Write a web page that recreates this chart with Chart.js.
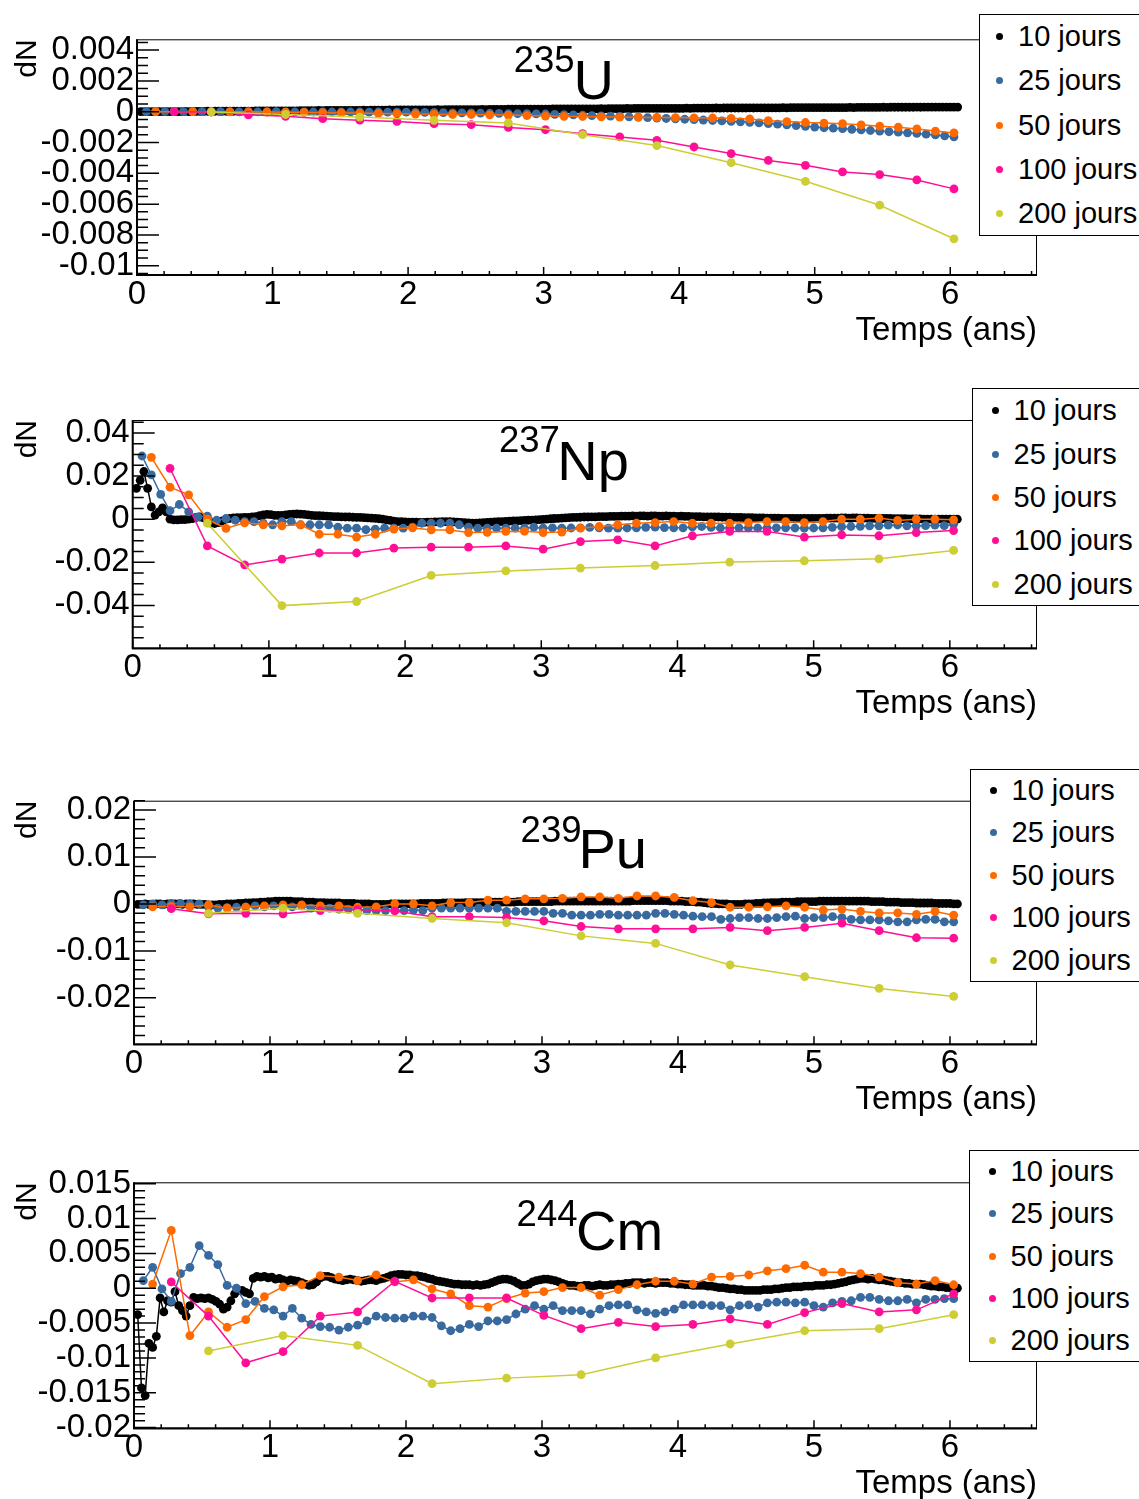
<!DOCTYPE html>
<html lang="fr">
<head>
<meta charset="utf-8">
<title>dN en fonction du temps</title>
<script src="https://cdn.jsdelivr.net/npm/chart.js@4.4.1/dist/chart.umd.min.js"></script>
<style>
  html, body { margin: 0; padding: 0; background: #fff; }
  body { position: relative; width: 1139px; height: 1499px; overflow: hidden;
         font-family: "Liberation Sans", Arial, Helvetica, sans-serif; color: #000; }
  .pad { position: absolute; left: 0; width: 1139px; height: 380px; overflow: hidden; }
  .pad canvas { position: absolute; left: 0; top: 0; }
  .iso { position: absolute; line-height: 1; white-space: nowrap; }
  .mass { font-size: 36.5px; }
  .sym { font-size: 56px; }
  .legbox { position: absolute; width: 230px; background: #fff; border: 1px solid #000; box-sizing: border-box; }
  .legrow { position: absolute; height: 32px; line-height: 32px; font-size: 29px; white-space: nowrap; }
  .legdot { position: absolute; width: 7px; height: 7px; border-radius: 50%; }
</style>
</head>
<body>
<div class="pad" id="pad0" style="top:0px"><canvas id="c0" width="1139" height="380"></canvas></div>
<div class="pad" id="pad1" style="top:375px"><canvas id="c1" width="1139" height="380"></canvas></div>
<div class="pad" id="pad2" style="top:750px"><canvas id="c2" width="1139" height="380"></canvas></div>
<div class="pad" id="pad3" style="top:1125px"><canvas id="c3" width="1139" height="380"></canvas></div>
<script>
// one series per sampling interval (days), t = k * interval / 365
const seriesLabels = ["10 jours", "25 jours", "50 jours", "100 jours", "200 jours"];
const stepDays = [10, 25, 50, 100, 200];
const seriesColors = ["#000000", "#386aa0", "#ff6a00", "#ff0f96", "#cdcd34"];
const xTickLabels = ["0", "1", "2", "3", "4", "5", "6"];

// ---- 235U ----
const u235_10j = [
  0, 0, 0, 0.00001, 0, 0, 0.00001, 0, 0.00001, 0.00001,
  0.00001, 0.00001, 0.00002, 0.00001, 0.00002, 0.00002, 0.00002, 0.00002, 0.00003, 0.00002,
  0.00003, 0.00003, 0.00003, 0.00003, 0.00004, 0.00003, 0.00004, 0.00004, 0.00004, 0.00004,
  0.00004, 0.00005, 0.00005, 0.00005, 0.00005, 0.00005, 0.00006, 0.00005, 0.00006, 0.00006,
  0.00006, 0.00006, 0.00006, 0.00007, 0.00007, 0.00007, 0.00007, 0.00007, 0.00008, 0.00007,
  0.00008, 0.00008, 0.00008, 0.00008, 0.00009, 0.00008, 0.00009, 0.00009, 0.00009, 0.00009,
  0.00010, 0.00009, 0.00010, 0.00010, 0.00010, 0.00010, 0.00010, 0.00011, 0.00010, 0.00011,
  0.00011, 0.00011, 0.00011, 0.00012, 0.00011, 0.00012, 0.00012, 0.00012, 0.00012, 0.00012,
  0.00013, 0.00012, 0.00013, 0.00013, 0.00013, 0.00013, 0.00014, 0.00013, 0.00014, 0.00014,
  0.00014, 0.00014, 0.00015, 0.00014, 0.00015, 0.00015, 0.00015, 0.00015, 0.00015, 0.00016,
  0.00016, 0.00016, 0.00016, 0.00016, 0.00017, 0.00016, 0.00017, 0.00017, 0.00017, 0.00017,
  0.00017, 0.00018, 0.00018, 0.00018, 0.00018, 0.00018, 0.00018, 0.00019, 0.00018, 0.00019,
  0.00019, 0.00019, 0.00019, 0.00019, 0.00020, 0.00019, 0.00020, 0.00020, 0.00020, 0.00020,
  0.00020, 0.00021, 0.00020, 0.00021, 0.00021, 0.00021, 0.00021, 0.00021, 0.00021, 0.00022,
  0.00021, 0.00022, 0.00022, 0.00022, 0.00022, 0.00022, 0.00022, 0.00023, 0.00022, 0.00023,
  0.00023, 0.00023, 0.00023, 0.00023, 0.00023, 0.00024, 0.00023, 0.00024, 0.00024, 0.00024,
  0.00024, 0.00024, 0.00024, 0.00024, 0.00025, 0.00024, 0.00025, 0.00025, 0.00025, 0.00025,
  0.00025, 0.00025, 0.00025, 0.00026, 0.00025, 0.00026, 0.00026, 0.00026, 0.00026, 0.00026,
  0.00026, 0.00026, 0.00027, 0.00026, 0.00027, 0.00027, 0.00027, 0.00027, 0.00027, 0.00027,
  0.00027, 0.00028, 0.00027, 0.00028, 0.00028, 0.00028, 0.00028, 0.00028, 0.00028, 0.00028,
  0.00029, 0.00028, 0.00029, 0.00029, 0.00029, 0.00029, 0.00029, 0.00029, 0.00029, 0.00030,
  0.00029, 0.00030, 0.00030, 0.00030, 0.00030, 0.00030, 0.00030, 0.00030, 0.00030, 0.00030,
  0.00030
];
const u235_25j = [
  0, 0.00001, 0, 0, 0.00001, 0, 0, -0.00001, 0, 0,
  -0.00001, 0, -0.00001, -0.00001, 0, -0.00001, -0.00001, -0.00001, -0.00002, -0.00001,
  -0.00002, -0.00002, -0.00002, -0.00002, -0.00003, -0.00002, -0.00003, -0.00003, -0.00003, -0.00004,
  -0.00005, -0.00005, -0.00006, -0.00007, -0.00008, -0.00008, -0.00009, -0.00010, -0.00011, -0.00012,
  -0.00012, -0.00013, -0.00014, -0.00015, -0.00017, -0.00019, -0.00021, -0.00023, -0.00025, -0.00027,
  -0.00029, -0.00031, -0.00033, -0.00035, -0.00038, -0.00041, -0.00044, -0.00047, -0.00049, -0.00052,
  -0.00054, -0.00057, -0.00060, -0.00063, -0.00066, -0.00069, -0.00073, -0.00077, -0.00081, -0.00085,
  -0.00090, -0.00095, -0.00100, -0.00104, -0.00107, -0.00110, -0.00114, -0.00118, -0.00122, -0.00126,
  -0.00130, -0.00133, -0.00137, -0.00141, -0.00146, -0.00151, -0.00157, -0.00163
];
const u235_50j = [
  0, 0, 0, 0, -0.00001, -0.00001, -0.00002, -0.00003, -0.00005, -0.00006,
  -0.00008, -0.00009, -0.00011, -0.00013, -0.00015, -0.00016, -0.00018, -0.00018, -0.00020, -0.00022,
  -0.00025, -0.00028, -0.00030, -0.00031, -0.00033, -0.00035, -0.00036, -0.00037, -0.00038, -0.00040,
  -0.00041, -0.00043, -0.00047, -0.00058, -0.00064, -0.00070, -0.00074, -0.00078, -0.00085, -0.00094,
  -0.00101, -0.00112, -0.00126, -0.00138
];
const u235_100j = [
  0, -0.00002, -0.00020, -0.00030, -0.00045, -0.00055, -0.00063, -0.00078, -0.00084, -0.00102,
  -0.00117, -0.00143, -0.00164, -0.00186, -0.00229, -0.00272, -0.00316, -0.00348, -0.00391, -0.00408,
  -0.00443, -0.00501
];
const u235_200j = [-0.00002, -0.00018, -0.00035, -0.00056, -0.00073, -0.00149, -0.00220, -0.00331, -0.00452, -0.00607, -0.00825];

// ---- 237Np ----
const np237_10j = [
  0.0143, 0.0180, 0.0221, 0.0143, 0.0057, 0.0019, 0.0034, 0.0052, 0.0034, 0.0000,
  -0.0003, -0.0003, -0.0002, -0.0002, 0.0000, 0.0003, 0.0008, 0.0010, 0.0006, -0.0010,
  -0.0018, -0.0020, -0.0016, -0.0008, 0.0000, 0.0004, 0.0006, 0.0007, 0.0007, 0.0008,
  0.0008, 0.0010, 0.0012, 0.0016, 0.0020, 0.0022, 0.0021, 0.0018, 0.0017, 0.0018,
  0.0020, 0.0022, 0.0023, 0.0024, 0.0023, 0.0022, 0.0020, 0.0018, 0.0016, 0.0016,
  0.0015, 0.0014, 0.0013, 0.0012, 0.0012, 0.0011, 0.0010, 0.0010, 0.0009, 0.0008,
  0.0008, 0.0007, 0.0006, 0.0005, 0.0004, 0.0002, 0.0000, -0.0003, -0.0006, -0.0009,
  -0.0011, -0.0012, -0.0013, -0.0014, -0.0014, -0.0014, -0.0015, -0.0015, -0.0014, -0.0014,
  -0.0013, -0.0013, -0.0012, -0.0012, -0.0012, -0.0013, -0.0014, -0.0015, -0.0016, -0.0017,
  -0.0018, -0.0018, -0.0017, -0.0016, -0.0015, -0.0014, -0.0013, -0.0012, -0.0011, -0.0010,
  -0.0009, -0.0008, -0.0008, -0.0007, -0.0006, -0.0005, -0.0004, -0.0003, -0.0002, -0.0001,
  0.0000, 0.0002, 0.0003, 0.0004, 0.0005, 0.0006, 0.0007, 0.0008, 0.0008, 0.0009,
  0.0010, 0.0010, 0.0011, 0.0011, 0.0012, 0.0012, 0.0012, 0.0013, 0.0013, 0.0013,
  0.0014, 0.0014, 0.0014, 0.0015, 0.0014, 0.0015, 0.0015, 0.0014, 0.0015, 0.0015,
  0.0014, 0.0014, 0.0015, 0.0014, 0.0014, 0.0013, 0.0014, 0.0013, 0.0013, 0.0012,
  0.0012, 0.0012, 0.0011, 0.0011, 0.0010, 0.0010, 0.0010, 0.0009, 0.0009, 0.0009,
  0.0008, 0.0008, 0.0008, 0.0007, 0.0007, 0.0007, 0.0006, 0.0006, 0.0006, 0.0005,
  0.0005, 0.0005, 0.0005, 0.0004, 0.0004, 0.0004, 0.0004, 0.0004, 0.0003, 0.0004,
  0.0004, 0.0003, 0.0004, 0.0004, 0.0004, 0.0005, 0.0005, 0.0005, 0.0005, 0.0006,
  0.0006, 0.0005, 0.0006, 0.0006, 0.0005, 0.0005, 0.0005, 0.0004, 0.0004, 0.0004,
  0.0003, 0.0003, 0.0003, 0.0002, 0.0002, 0.0002, 0.0002, 0.0001, 0.0001, 0.0001,
  0.0001, 0.0000, 0.0000, 0.0000, 0.0000, 0.0000, 0.0000, 0.0000, 0.0000, 0.0000,
  0.0000
];
const np237_25j = [
  0.0293, 0.0205, 0.0115, 0.0039, 0.0068, 0.0034, 0.0011, 0.0014, -0.0005, 0.0003,
  -0.0005, -0.0011, -0.0011, -0.0019, -0.0026, -0.0011, -0.0011, -0.0026, -0.0026, -0.0026,
  -0.0026, -0.0037, -0.0042, -0.0042, -0.0049, -0.0046, -0.0042, -0.0042, -0.0042, -0.0037,
  -0.0019, -0.0019, -0.0019, -0.0019, -0.0026, -0.0037, -0.0042, -0.0042, -0.0042, -0.0042,
  -0.0042, -0.0042, -0.0037, -0.0042, -0.0040, -0.0042, -0.0041, -0.0040, -0.0038, -0.0040,
  -0.0042, -0.0042, -0.0041, -0.0040, -0.0038, -0.0037, -0.0039, -0.0040, -0.0040, -0.0036,
  -0.0034, -0.0038, -0.0041, -0.0041, -0.0040, -0.0040, -0.0041, -0.0041, -0.0040, -0.0040,
  -0.0041, -0.0042, -0.0041, -0.0040, -0.0038, -0.0035, -0.0034, -0.0033, -0.0031, -0.0031,
  -0.0028, -0.0027, -0.0031, -0.0031, -0.0030, -0.0028, -0.0030, -0.0024
];
const np237_50j = [
  0.0287, 0.0148, 0.0113, 0.0000, -0.0043, -0.0017, -0.0026, -0.0031, -0.0026, -0.0070,
  -0.0070, -0.0083, -0.0070, -0.0046, -0.0040, -0.0050, -0.0050, -0.0062, -0.0061, -0.0057,
  -0.0056, -0.0062, -0.0060, -0.0042, -0.0034, -0.0026, -0.0019, -0.0016, -0.0011, -0.0019,
  -0.0019, -0.0019, -0.0016, -0.0011, -0.0011, -0.0016, -0.0011, 0.0000, 0.0000, 0.0005,
  -0.0006, 0.0000, 0.0000, -0.0003
];
const np237_100j = [
  0.0236, -0.0124, -0.0212, -0.0185, -0.0157, -0.0157, -0.0134, -0.0130, -0.0130, -0.0124,
  -0.0139, -0.0104, -0.0096, -0.0124, -0.0077, -0.0057, -0.0057, -0.0083, -0.0073, -0.0077,
  -0.0062, -0.0053
];
const np237_200j = [-0.0019, -0.0401, -0.0382, -0.0261, -0.0240, -0.0227, -0.0215, -0.0199, -0.0193, -0.0184, -0.0145];

// ---- 239Pu ----
const pu239_10j = [
  -0.0001, -0.0001, 0.0000, -0.0001, -0.0001, 0.0000, 0.0000, -0.0001, 0.0000, 0.0000,
  0.0000, 0.0000, -0.0001, 0.0000, 0.0000, 0.0000, -0.0001, -0.0001, -0.0001, -0.0002,
  -0.0002, -0.0002, -0.0001, -0.0001, 0.0000, 0.0000, 0.0000, 0.0001, 0.0001, 0.0002,
  0.0002, 0.0003, 0.0003, 0.0004, 0.0004, 0.0005, 0.0005, 0.0006, 0.0006, 0.0006,
  0.0006, 0.0006, 0.0005, 0.0005, 0.0005, 0.0004, 0.0004, 0.0004, 0.0003, 0.0003,
  0.0003, 0.0002, 0.0002, 0.0002, 0.0002, 0.0001, 0.0001, 0.0001, 0.0001, 0.0000,
  0.0000, 0.0000, 0.0000, -0.0001, -0.0001, -0.0001, -0.0001, -0.0001, 0.0000, 0.0000,
  0.0000, 0.0000, 0.0000, 0.0000, 0.0000, 0.0000, 0.0001, 0.0001, 0.0001, 0.0001,
  0.0001, 0.0001, 0.0002, 0.0002, 0.0002, 0.0002, 0.0002, 0.0002, 0.0003, 0.0003,
  0.0003, 0.0003, 0.0003, 0.0003, 0.0003, 0.0004, 0.0004, 0.0004, 0.0004, 0.0004,
  0.0004, 0.0004, 0.0005, 0.0005, 0.0005, 0.0005, 0.0005, 0.0005, 0.0005, 0.0005,
  0.0005, 0.0005, 0.0006, 0.0006, 0.0006, 0.0006, 0.0006, 0.0006, 0.0006, 0.0006,
  0.0006, 0.0006, 0.0006, 0.0006, 0.0006, 0.0006, 0.0006, 0.0006, 0.0006, 0.0006,
  0.0006, 0.0006, 0.0006, 0.0007, 0.0007, 0.0007, 0.0007, 0.0007, 0.0007, 0.0007,
  0.0007, 0.0007, 0.0007, 0.0006, 0.0006, 0.0006, 0.0006, 0.0005, 0.0005, 0.0005,
  0.0004, 0.0004, 0.0003, 0.0002, 0.0001, 0.0001, 0.0000, 0.0000, 0.0000, -0.0001,
  -0.0001, -0.0001, -0.0001, 0.0000, 0.0000, 0.0000, 0.0001, 0.0001, 0.0002, 0.0002,
  0.0003, 0.0003, 0.0003, 0.0004, 0.0004, 0.0004, 0.0004, 0.0005, 0.0005, 0.0005,
  0.0005, 0.0005, 0.0005, 0.0006, 0.0006, 0.0006, 0.0006, 0.0006, 0.0006, 0.0006,
  0.0006, 0.0006, 0.0006, 0.0006, 0.0006, 0.0006, 0.0006, 0.0005, 0.0005, 0.0005,
  0.0005, 0.0004, 0.0004, 0.0004, 0.0004, 0.0003, 0.0003, 0.0003, 0.0003, 0.0002,
  0.0002, 0.0002, 0.0002, 0.0002, 0.0001, 0.0001, 0.0001, 0.0001, 0.0001, 0.0000,
  0.0000
];
const pu239_25j = [
  -0.0002, 0.0000, -0.0002, 0.0001, 0.0001, 0.0000, 0.0000, -0.0006, -0.0009, -0.0008,
  -0.0007, -0.0006, -0.0004, -0.0006, -0.0004, -0.0006, -0.0006, -0.0004, -0.0009, -0.0009,
  -0.0009, -0.0011, -0.0011, -0.0013, -0.0014, -0.0014, -0.0014, -0.0013, -0.0014, -0.0013,
  -0.0014, -0.0009, -0.0009, -0.0009, -0.0009, -0.0009, -0.0009, -0.0009, -0.0009, -0.0016,
  -0.0016, -0.0016, -0.0016, -0.0016, -0.0020, -0.0020, -0.0024, -0.0024, -0.0024, -0.0022,
  -0.0022, -0.0024, -0.0024, -0.0024, -0.0024, -0.0020, -0.0020, -0.0022, -0.0024, -0.0026,
  -0.0027, -0.0027, -0.0033, -0.0031, -0.0029, -0.0029, -0.0031, -0.0031, -0.0029, -0.0027,
  -0.0026, -0.0031, -0.0029, -0.0029, -0.0027, -0.0029, -0.0033, -0.0034, -0.0034, -0.0034,
  -0.0036, -0.0038, -0.0038, -0.0034, -0.0033, -0.0033, -0.0038, -0.0038
];
const pu239_50j = [
  -0.0006, -0.0005, -0.0006, -0.0002, -0.0009, -0.0007, -0.0004, -0.0002, -0.0002, -0.0004,
  -0.0004, -0.0007, -0.0006, 0.0000, 0.0000, -0.0004, 0.0003, 0.0003, 0.0008, 0.0008,
  0.0011, 0.0011, 0.0012, 0.0015, 0.0015, 0.0012, 0.0017, 0.0017, 0.0014, 0.0007,
  0.0003, -0.0007, -0.0007, -0.0006, -0.0004, -0.0007, -0.0013, -0.0011, -0.0016, -0.0019,
  -0.0019, -0.0022, -0.0016, -0.0024
];
const pu239_100j = [
  -0.0010, -0.0021, -0.0020, -0.0021, -0.0014, -0.0012, -0.0015, -0.0027, -0.0027, -0.0029,
  -0.0036, -0.0048, -0.0053, -0.0053, -0.0053, -0.0050, -0.0057, -0.0050, -0.0041, -0.0057,
  -0.0072, -0.0073
];
const pu239_200j = [-0.0020, -0.0009, -0.0020, -0.0031, -0.0040, -0.0068, -0.0084, -0.0130, -0.0155, -0.0180, -0.0197];

// ---- 244Cm ----
const cm244_10j = [
  -0.0038, -0.0143, -0.0154, -0.0079, -0.0085, -0.0069, -0.0014, -0.0034, -0.0018, -0.0020,
  -0.0005, -0.0025, -0.0032, -0.0040, -0.0025, -0.0013, -0.0015, -0.0014, -0.0015, -0.0014,
  -0.0016, -0.0019, -0.0023, -0.0030, -0.0027, -0.0018, -0.0008, -0.0003, -0.0003, -0.0006,
  -0.0008, 0.0014, 0.0017, 0.0016, 0.0017, 0.0015, 0.0016, 0.0013, 0.0014, 0.0012,
  0.0010, 0.0012, 0.0011, 0.0010, 0.0008, 0.0006, 0.0004, 0.0005, 0.0009, 0.0015,
  0.0017, 0.0017, 0.0015, 0.0013, 0.0012, 0.0011, 0.0012, 0.0013, 0.0012, 0.0011,
  0.0010, 0.0011, 0.0012, 0.0012, 0.0011, 0.0013, 0.0014, 0.0016, 0.0018, 0.0019,
  0.0020, 0.0020, 0.0019, 0.0019, 0.0018, 0.0018, 0.0017, 0.0016, 0.0014, 0.0013,
  0.0011, 0.0010, 0.0009, 0.0008, 0.0007, 0.0006, 0.0006, 0.0005, 0.0005, 0.0005,
  0.0004, 0.0005, 0.0004, 0.0005, 0.0006, 0.0008, 0.0010, 0.0012, 0.0013, 0.0013,
  0.0012, 0.0010, 0.0007, 0.0004, 0.0004, 0.0006, 0.0009, 0.0011, 0.0012, 0.0013,
  0.0013, 0.0012, 0.0011, 0.0009, 0.0007, 0.0005, 0.0004, 0.0004, 0.0003, 0.0003,
  0.0004, 0.0004, 0.0003, 0.0004, 0.0005, 0.0004, 0.0004, 0.0005, 0.0005, 0.0006,
  0.0006, 0.0007, 0.0007, 0.0008, 0.0008, 0.0008, 0.0007, 0.0008, 0.0008, 0.0007,
  0.0008, 0.0008, 0.0008, 0.0007, 0.0007, 0.0006, 0.0006, 0.0005, 0.0005, 0.0004,
  0.0004, 0.0004, 0.0004, 0.0003, 0.0003, 0.0002, 0.0001, 0.0001, 0.0000, -0.0001,
  -0.0001, -0.0002, -0.0002, -0.0003, -0.0003, -0.0003, -0.0003, -0.0003, -0.0002, -0.0002,
  -0.0002, -0.0001, -0.0001, 0.0000, 0.0001, 0.0001, 0.0002, 0.0002, 0.0002, 0.0003,
  0.0003, 0.0003, 0.0004, 0.0004, 0.0004, 0.0005, 0.0005, 0.0006, 0.0007, 0.0008,
  0.0009, 0.0011, 0.0012, 0.0013, 0.0014, 0.0014, 0.0013, 0.0014, 0.0013, 0.0012,
  0.0012, 0.0011, 0.0010, 0.0009, 0.0008, 0.0008, 0.0007, 0.0007, 0.0006, 0.0006,
  0.0006, 0.0005, 0.0004, 0.0003, 0.0003, 0.0002, 0.0002, 0.0001, 0.0001, 0.0000,
  0.0000
];
const cm244_25j = [
  0.0011, 0.0030, -0.0001, -0.0019, 0.0021, 0.0030, 0.0061, 0.0047, 0.0034, 0.0004,
  0.0000, -0.0022, -0.0019, -0.0029, -0.0031, -0.0040, -0.0029, -0.0043, -0.0052, -0.0055,
  -0.0056, -0.0060, -0.0056, -0.0053, -0.0047, -0.0040, -0.0042, -0.0043, -0.0043, -0.0040,
  -0.0040, -0.0042, -0.0054, -0.0061, -0.0058, -0.0052, -0.0055, -0.0047, -0.0047, -0.0045,
  -0.0037, -0.0030, -0.0025, -0.0030, -0.0025, -0.0032, -0.0032, -0.0032, -0.0037, -0.0030,
  -0.0025, -0.0024, -0.0024, -0.0031, -0.0034, -0.0036, -0.0034, -0.0030, -0.0024, -0.0024,
  -0.0024, -0.0025, -0.0025, -0.0031, -0.0025, -0.0024, -0.0027, -0.0021, -0.0020, -0.0020,
  -0.0021, -0.0020, -0.0025, -0.0027, -0.0021, -0.0019, -0.0018, -0.0013, -0.0013, -0.0016,
  -0.0018, -0.0018, -0.0016, -0.0021, -0.0016, -0.0016, -0.0015, -0.0015
];
const cm244_50j = [
  0.0006, 0.0083, -0.0068, -0.0034, -0.0056, -0.0045, -0.0012, 0.0002, 0.0005, 0.0018,
  0.0016, 0.0011, 0.0019, 0.0009, 0.0012, -0.0001, -0.0008, -0.0025, -0.0027, -0.0015,
  -0.0007, -0.0005, 0.0001, 0.0001, -0.0010, -0.0002, 0.0005, 0.0010, 0.0010, 0.0006,
  0.0016, 0.0017, 0.0019, 0.0025, 0.0028, 0.0033, 0.0023, 0.0023, 0.0021, 0.0016,
  0.0008, 0.0006, 0.0011, 0.0005
];
const cm244_100j = [
  0.0009, -0.0040, -0.0107, -0.0091, -0.0040, -0.0034, 0.0010, -0.0014, -0.0014, -0.0014,
  -0.0039, -0.0058, -0.0049, -0.0055, -0.0052, -0.0044, -0.0052, -0.0035, -0.0022, -0.0034,
  -0.0031, -0.0008
];
const cm244_200j = [-0.0090, -0.0068, -0.0082, -0.0137, -0.0129, -0.0124, -0.0100, -0.0080, -0.0061, -0.0058, -0.0038];

// ---- panels ----
const panels = [
  { canvas: "c0", pad: "pad0", mass: "235", sym: "U",
    series: [u235_10j, u235_25j, u235_50j, u235_100j, u235_200j],
    ymin: -0.0106, ymax: 0.0047, ymajor: 0.002, yminor: 0.0005 },
  { canvas: "c1", pad: "pad1", mass: "237", sym: "Np",
    series: [np237_10j, np237_25j, np237_50j, np237_100j, np237_200j],
    ymin: -0.0599, ymax: 0.046, ymajor: 0.02, yminor: 0.005 },
  { canvas: "c2", pad: "pad2", mass: "239", sym: "Pu",
    series: [pu239_10j, pu239_25j, pu239_50j, pu239_100j, pu239_200j],
    ymin: -0.0299, ymax: 0.022, ymajor: 0.01, yminor: 0.002 },
  { canvas: "c3", pad: "pad3", mass: "244", sym: "Cm",
    series: [cm244_10j, cm244_25j, cm244_50j, cm244_100j, cm244_200j],
    ymin: -0.0201, ymax: 0.0152, ymajor: 0.005, yminor: 0.001 },
];

// geometry of each pad (px, relative to pad top)
const geometry = [
  { left: 137, plotTop: 39.3, plotBottom: 275, massX: 513.7, massY: 41.8, symX: 573.4, symY: 51.9,
    legLeft: 978.5, legTop: 13.5, legHeight: 222, rows: [36, 80, 125, 169, 213], dotX: 999, textX: 1018 },
  { left: 132.7, plotTop: 45, plotBottom: 273.3, massX: 499, massY: 47.1, symX: 557.3, symY: 57.6,
    legLeft: 972, legTop: 13, legHeight: 218, rows: [35, 79, 122, 165, 209], dotX: 995, textX: 1013.5 },
  { left: 134, plotTop: 50.7, plotBottom: 294.3, massX: 520.6, massY: 62.4, symX: 578.5, symY: 70.9,
    legLeft: 970, legTop: 19, legHeight: 213, rows: [40, 82, 125, 167, 210], dotX: 993, textX: 1011.5 },
  { left: 134, plotTop: 57.3, plotBottom: 303.3, massX: 516.6, massY: 70.8, symX: 576, symY: 78.3,
    legLeft: 969, legTop: 25, legHeight: 212, rows: [46, 88, 131, 173, 215], dotX: 992, textX: 1010.5 },
];

const CANVAS_H = 380;
const PLOT_RIGHT = 1037;
const XAXIS_H = 72.5;
const XTICK_PAD = 0;

Chart.defaults.font.family = "'Liberation Sans', Arial, Helvetica, sans-serif";
Chart.defaults.color = "#000";

function fmt(v) {
  return String(Number(Number(v).toFixed(4)));
}

// ROOT style frame: thin box, thicker axes, ticks drawn inside
const rootFrame = {
  id: "rootFrame",
  afterDraw(chart, args, o) {
    const {ctx, chartArea: a} = chart;
    const x = chart.scales.x, y = chart.scales.y;
    ctx.save();
    ctx.strokeStyle = "#000";
    ctx.lineWidth = 1;
    ctx.strokeRect(a.left, a.top + 0.5, a.right - a.left - 0.5, a.bottom - a.top);
    ctx.lineWidth = 2;
    ctx.beginPath();
    ctx.moveTo(a.left, a.top);
    ctx.lineTo(a.left, a.bottom);
    ctx.lineTo(a.right, a.bottom);
    ctx.stroke();

    ctx.lineWidth = 1.5;
    ctx.beginPath();
    const ratio = Math.round(o.yMajor / o.yMinor);
    for (let i = Math.ceil(y.min / o.yMinor - 1e-6); i * o.yMinor <= y.max + 1e-9; i++) {
      const py = y.getPixelForValue(i * o.yMinor);
      ctx.moveTo(a.left, py);
      ctx.lineTo(a.left + (i % ratio === 0 ? 22 : 11), py);
    }
    for (let i = 0; i * 0.2 <= x.max + 1e-9; i++) {
      const px = x.getPixelForValue(i * 0.2);
      ctx.moveTo(px, a.bottom);
      ctx.lineTo(px, a.bottom - (i % 5 === 0 ? 8 : 4));
    }
    ctx.stroke();
    ctx.restore();
  }
};

function buildDatasets(series) {
  return series.map((vals, i) => ({
    label: seriesLabels[i],
    data: vals.map((v, k) => ({x: (k + 1) * stepDays[i] / 365, y: v})),
    borderColor: seriesColors[i],
    backgroundColor: seriesColors[i],
    pointBackgroundColor: seriesColors[i],
    borderWidth: 1.5,
    pointRadius: 4.4,
    pointHoverRadius: 4.4,
    pointBorderWidth: 0,
    tension: 0,
    fill: false,
    order: series.length - i,
  }));
}

function addLabels(p, g) {
  const pad = document.getElementById(p.pad);

  const mass = document.createElement("span");
  mass.className = "iso mass";
  mass.textContent = p.mass;
  mass.style.left = g.massX + "px";
  mass.style.top = g.massY + "px";
  pad.appendChild(mass);

  const sym = document.createElement("span");
  sym.className = "iso sym";
  sym.textContent = p.sym;
  sym.style.left = g.symX + "px";
  sym.style.top = g.symY + "px";
  pad.appendChild(sym);

  const box = document.createElement("div");
  box.className = "legbox";
  box.style.left = g.legLeft + "px";
  box.style.top = g.legTop + "px";
  box.style.height = g.legHeight + "px";
  pad.appendChild(box);

  seriesLabels.forEach((lab, i) => {
    const dot = document.createElement("span");
    dot.className = "legdot";
    dot.style.background = seriesColors[i];
    dot.style.left = (g.dotX - 3.5) + "px";
    dot.style.top = (g.rows[i] - 3.5) + "px";
    pad.appendChild(dot);

    const row = document.createElement("div");
    row.className = "legrow";
    row.textContent = lab;
    row.style.left = g.textX + "px";
    row.style.top = (g.rows[i] - 16) + "px";
    pad.appendChild(row);
  });
}

function drawPanel(p, g) {
  const ctx = document.getElementById(p.canvas).getContext("2d");
  const config = {
    type: "line",
    data: { datasets: buildDatasets(p.series) },
    options: {
      responsive: false,
      animation: false,
      devicePixelRatio: 1,
      events: [],
      layout: {
        padding: { left: 0, top: g.plotTop, right: 1139 - PLOT_RIGHT, bottom: CANVAS_H - g.plotBottom - XAXIS_H },
      },
      plugins: {
        legend: { display: false },
        tooltip: { enabled: false },
        rootFrame: { yMajor: p.ymajor, yMinor: p.yminor },
      },
      scales: {
        x: {
          type: "linear",
          min: 0,
          max: 6.64,
          afterFit: (s) => { s.height = XAXIS_H; },
          grid: { display: false, drawTicks: false },
          border: { display: false },
          ticks: {
            stepSize: 1,
            includeBounds: false,
            padding: XTICK_PAD,
            maxRotation: 0,
            autoSkip: false,
            font: { size: 33 },
            callback: (v) => xTickLabels[Math.round(v)] ?? fmt(v),
          },
          title: { display: true, text: "Temps (ans)", align: "end", font: { size: 33, lineHeight: 1 }, padding: 0 },
        },
        y: {
          min: p.ymin,
          max: p.ymax,
          afterFit: (s) => { s.width = g.left; },
          grid: { display: false, drawTicks: false },
          border: { display: false },
          ticks: {
            stepSize: p.ymajor,
            includeBounds: false,
            padding: 3,
            autoSkip: false,
            font: { size: 33 },
            callback: fmt,
          },
          title: { display: true, text: "dN", align: "end", font: { size: 30, lineHeight: 1 }, padding: { top: 13, bottom: 0 } },
        },
      },
    },
    plugins: [rootFrame],
  };
  return new Chart(ctx, config);
}

panels.forEach((p, i) => {
  drawPanel(p, geometry[i]);
  addLabels(p, geometry[i]);
});
</script>
</body>
</html>
